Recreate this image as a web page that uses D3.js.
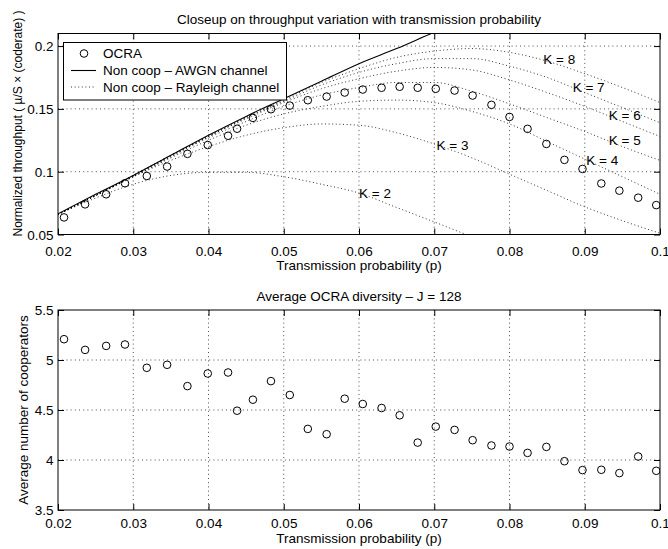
<!DOCTYPE html>
<html>
<head>
<meta charset="utf-8">
<script src="https://cdn.jsdelivr.net/npm/d3@7"></script>
<style>
  html, body { margin: 0; padding: 0; background: #fff; }
  svg { display: block; font-family: "Liberation Sans", Arial, sans-serif; }
</style>
</head>
<body>
<svg id="chart" width="668" height="549"></svg>
<script>
// ---------------- DATA ----------------
const xTicks = [0.02, 0.03, 0.04, 0.05, 0.06, 0.07, 0.08, 0.09, 0.1];
const xTickLabels = ["0.02", "0.03", "0.04", "0.05", "0.06", "0.07", "0.08", "0.09", "0.1"];
const yTicksTop = [0.05, 0.1, 0.15, 0.2];
const yTickLabelsTop = ["0.05", "0.1", "0.15", "0.2"];
const yTicksBottom = [3.5, 4, 4.5, 5, 5.5];
const yTickLabelsBottom = ["3.5", "4", "4.5", "5", "5.5"];

// OCRA simulation points
const ocraP = [0.0208, 0.0236, 0.0264, 0.0289, 0.0318, 0.0345, 0.0372, 0.0399, 0.0426, 0.0438,
  0.0459, 0.0483, 0.0508, 0.0532, 0.0557, 0.0581, 0.0605, 0.0630, 0.0654, 0.0678,
  0.0702, 0.0727, 0.0751, 0.0776, 0.0800, 0.0824, 0.0849, 0.0873, 0.0897, 0.0922,
  0.0946, 0.0971, 0.0995];
const ocraThroughput = [0.0636, 0.0740, 0.0820, 0.0908, 0.0966, 0.1041, 0.1142, 0.1212, 0.1286, 0.1342,
  0.1428, 0.1497, 0.1526, 0.1569, 0.1598, 0.1630, 0.1654, 0.1668, 0.1676, 0.1668,
  0.1660, 0.1646, 0.1606, 0.1532, 0.1436, 0.1341, 0.1221, 0.1094, 0.1022, 0.0906,
  0.0849, 0.0793, 0.0734];
const ocraDiversity = [5.208, 5.101, 5.141, 5.155, 4.922, 4.952, 4.739, 4.865, 4.875, 4.493,
  4.603, 4.789, 4.650, 4.311, 4.258, 4.613, 4.560, 4.520, 4.447, 4.174,
  4.334, 4.301, 4.198, 4.145, 4.135, 4.071, 4.131, 3.988, 3.899, 3.902,
  3.869, 4.035, 3.892];

// Analytical curves sampled on this p grid
const pGrid = [0.02, 0.025, 0.03, 0.035, 0.04, 0.045, 0.05, 0.055, 0.06, 0.065,
  0.07, 0.075, 0.08, 0.085, 0.09, 0.095, 0.1];
const awgn = [0.0665, 0.082, 0.097, 0.113, 0.129, 0.144, 0.158, 0.172, 0.186, 0.198, 0.211, 0.223];
const rayK2 = [0.066, 0.079, 0.090, 0.097, 0.0995, 0.0995, 0.096, 0.090, 0.083, 0.0715, 0.060, 0.0485, 0.040];
const rayK3 = [0.066, 0.081, 0.096, 0.109, 0.120, 0.129, 0.135, 0.138, 0.137, 0.131, 0.122, 0.111, 0.098, 0.085, 0.072, 0.061, 0.051];
const rayK4 = [0.066, 0.081, 0.096, 0.111, 0.125, 0.137, 0.146, 0.152, 0.156, 0.157, 0.155, 0.148, 0.138, 0.124, 0.110, 0.096, 0.082];
const rayK5 = [0.066, 0.081, 0.096, 0.112, 0.127, 0.140, 0.152, 0.161, 0.167, 0.171, 0.171, 0.164, 0.154, 0.143, 0.132, 0.120, 0.109];
const rayK6 = [0.066, 0.081, 0.097, 0.112, 0.128, 0.142, 0.155, 0.166, 0.174, 0.180, 0.183, 0.181, 0.173, 0.163, 0.152, 0.140, 0.128];
const rayK7 = [0.066, 0.081, 0.097, 0.113, 0.128, 0.143, 0.156, 0.169, 0.179, 0.186, 0.190, 0.190, 0.184, 0.175, 0.163, 0.151, 0.139];
const rayK8 = [0.066, 0.081, 0.097, 0.113, 0.128, 0.143, 0.157, 0.171, 0.182, 0.191, 0.196, 0.198, 0.195, 0.188, 0.178, 0.167, 0.155];
const raySeries = [rayK2, rayK3, rayK4, rayK5, rayK6, rayK7, rayK8];

// K annotation labels (text, anchor in data coords)
const kLabels = ["K = 2", "K = 3", "K = 4", "K = 5", "K = 6", "K = 7", "K = 8"];
const kLabelP = [0.0600, 0.0703, 0.0902, 0.0932, 0.0932, 0.0884, 0.0845];
const kLabelV = [0.083, 0.1214, 0.1094, 0.125, 0.1448, 0.167, 0.1897];

const legendLabels = ["OCRA", "Non coop \u2013 AWGN channel", "Non coop \u2013 Rayleigh channel"];

// ---------------- DRAWING ----------------
const svg = d3.select("#chart");
const FS = 13.5;

function panel(cfg) {
  const g = svg.append("g");
  const x = d3.scaleLinear().domain([0.02, 0.1]).range([cfg.left, cfg.right]);
  const y = d3.scaleLinear().domain(cfg.yDomain).range([cfg.bottom, cfg.top]);

  g.append("rect").attr("x", cfg.left).attr("y", cfg.top)
    .attr("width", cfg.right - cfg.left).attr("height", cfg.bottom - cfg.top)
    .attr("fill", "#fff");

  // grid
  g.append("g").selectAll("line").data(xTicks.slice(1, -1)).join("line")
    .attr("x1", d => x(d)).attr("x2", d => x(d))
    .attr("y1", cfg.top).attr("y2", cfg.bottom)
    .attr("stroke", "#000").attr("stroke-width", 0.7).attr("stroke-dasharray", "1,3.2");
  g.append("g").selectAll("line").data(cfg.yTicks.filter(d => d > cfg.yDomain[0] && d < cfg.yDomain[1])).join("line")
    .attr("x1", cfg.left).attr("x2", cfg.right)
    .attr("y1", d => y(d)).attr("y2", d => y(d))
    .attr("stroke", "#000").attr("stroke-width", 0.7).attr("stroke-dasharray", "1,3.2");

  const clipId = "clip" + cfg.id;
  svg.append("clipPath").attr("id", clipId).append("rect")
    .attr("x", cfg.left).attr("y", cfg.top)
    .attr("width", cfg.right - cfg.left).attr("height", cfg.bottom - cfg.top);
  const plot = g.append("g").attr("clip-path", `url(#${clipId})`);

  // axes with d3 axis generators (inward ticks)
  const TL = 6;
  const axB = d3.axisBottom(x).tickValues(xTicks).tickFormat((d, i) => xTickLabels[i]).tickSizeInner(-TL).tickSizeOuter(0).tickPadding(0);
  const axT = d3.axisTop(x).tickValues(xTicks).tickFormat("").tickSizeInner(-TL).tickSizeOuter(0);
  const axL = d3.axisLeft(y).tickValues(cfg.yTicks).tickFormat((d, i) => cfg.yTickLabels[i]).tickSizeInner(-TL).tickSizeOuter(0).tickPadding(4.5);
  const axR = d3.axisRight(y).tickValues(cfg.yTicks).tickFormat("").tickSizeInner(-TL).tickSizeOuter(0);

  const gB = g.append("g").attr("transform", `translate(0,${cfg.bottom})`).call(axB);
  const gT = g.append("g").attr("transform", `translate(0,${cfg.top})`).call(axT);
  const gL = g.append("g").attr("transform", `translate(${cfg.left},0)`).call(axL);
  const gR = g.append("g").attr("transform", `translate(${cfg.right},0)`).call(axR);
  [gB, gT, gL, gR].forEach(a => {
    a.select(".domain").remove();
    a.selectAll("line").attr("stroke", "#000").attr("stroke-width", 1);
    a.selectAll("text").attr("font-size", FS).attr("fill", "#000")
      .attr("font-family", '"Liberation Sans", Arial, sans-serif');
  });
  gB.selectAll("text").attr("y", cfg.xTickBase).attr("dy", 0);
  gL.selectAll("text").attr("dy", "0.36em");

  g.append("rect").attr("x", cfg.left).attr("y", cfg.top)
    .attr("width", cfg.right - cfg.left).attr("height", cfg.bottom - cfg.top)
    .attr("fill", "none").attr("stroke", "#000").attr("stroke-width", 1);

  // titles
  g.append("text").attr("x", (cfg.left + cfg.right) / 2).attr("y", cfg.titleY)
    .attr("text-anchor", "middle").attr("font-size", FS).text(cfg.title);
  g.append("text").attr("x", (cfg.left + cfg.right) / 2).attr("y", cfg.xLabelY)
    .attr("text-anchor", "middle").attr("font-size", FS).text("Transmission probability (p)");
  g.append("text").attr("transform", `translate(${cfg.yLabelX},${cfg.yLabelCY}) rotate(-90)`)
    .attr("text-anchor", "middle").attr("font-size", cfg.yLabelFS || FS).text(cfg.yLabel);

  return { x, y, plot, g };
}

// ---- Top panel ----
const topP = panel({
  id: "top", left: 58, right: 660, top: 33.5, bottom: 234.5,
  yDomain: [0.05, 0.21], yTicks: yTicksTop, yTickLabels: yTickLabelsTop,
  title: "Closeup on throughput variation with transmission probability", titleY: 24,
  xLabelY: 269.5, xTickBase: 21,
  yLabel: "Normalized throughput ( \u00b5/S \u00d7 (coderate) )", yLabelX: 22, yLabelCY: 123.5, yLabelFS: 12
});

const line = (xs, ys) => d3.line().x((d, i) => topP.x(xs[i])).y(d => topP.y(d)).curve(d3.curveMonotoneX)(ys);

raySeries.forEach(s => {
  topP.plot.append("path").attr("d", line(pGrid, s))
    .attr("fill", "none").attr("stroke", "#000").attr("stroke-width", 0.8)
    .attr("stroke-dasharray", "1,2.6");
});
topP.plot.append("path").attr("d", line(pGrid, awgn))
  .attr("fill", "none").attr("stroke", "#000").attr("stroke-width", 1.1);

topP.plot.append("g").selectAll("circle").data(ocraThroughput).join("circle")
  .attr("cx", (d, i) => topP.x(ocraP[i])).attr("cy", d => topP.y(d))
  .attr("r", 3.8).attr("fill", "none").attr("stroke", "#000").attr("stroke-width", 1);

topP.g.append("g").selectAll("text").data(kLabels).join("text")
  .attr("x", (d, i) => topP.x(kLabelP[i])).attr("y", (d, i) => topP.y(kLabelV[i]))
  .attr("dy", "0.35em").attr("font-size", FS).text(d => d);

// legend
const lg = topP.g.append("g");
lg.append("rect").attr("x", 63.5).attr("y", 42.5).attr("width", 223).attr("height", 57.5)
  .attr("fill", "#fff").attr("stroke", "#000").attr("stroke-width", 1);
const legY = [53.5, 70.5, 87];
lg.append("circle").attr("cx", 84).attr("cy", legY[0]).attr("r", 3.8)
  .attr("fill", "none").attr("stroke", "#000");
lg.append("line").attr("x1", 71).attr("x2", 96).attr("y1", legY[1]).attr("y2", legY[1])
  .attr("stroke", "#000").attr("stroke-width", 1.1);
lg.append("line").attr("x1", 71).attr("x2", 96).attr("y1", legY[2]).attr("y2", legY[2])
  .attr("stroke", "#000").attr("stroke-width", 0.8).attr("stroke-dasharray", "1,2.6");
lg.selectAll("text.leg").data(legendLabels).join("text").attr("class", "leg")
  .attr("x", 103).attr("y", (d, i) => legY[i]).attr("dy", "0.35em")
  .attr("font-size", FS).text(d => d);

// ---- Bottom panel ----
const botP = panel({
  id: "bot", left: 58, right: 660, top: 310, bottom: 510,
  yDomain: [3.5, 5.5], yTicks: yTicksBottom, yTickLabels: yTickLabelsBottom,
  title: "Average OCRA diversity \u2013 J = 128", titleY: 301,
  xLabelY: 542.5, xTickBase: 17.5,
  yLabel: "Average number of cooperators", yLabelX: 28, yLabelCY: 410
});
botP.plot.append("g").selectAll("circle").data(ocraDiversity).join("circle")
  .attr("cx", (d, i) => botP.x(ocraP[i])).attr("cy", d => botP.y(d))
  .attr("r", 3.8).attr("fill", "none").attr("stroke", "#000").attr("stroke-width", 1);
</script>
</body>
</html>
